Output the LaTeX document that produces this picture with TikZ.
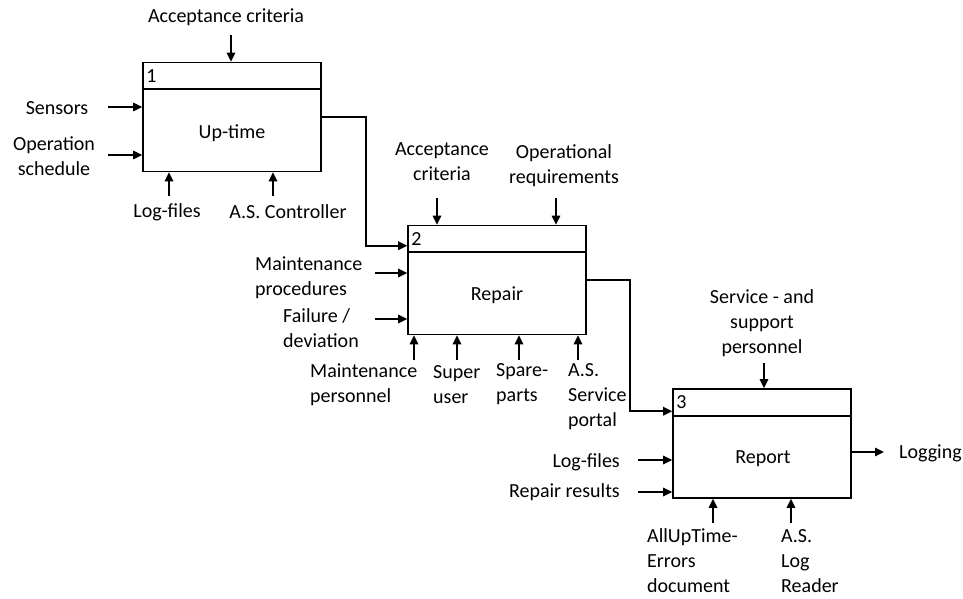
\documentclass[tikz,border=0pt]{standalone}
\usepackage{fontspec}
\setmainfont{Carlito}
\usetikzlibrary{arrows.meta,calc}
\begin{document}
\begin{tikzpicture}[x=1pt,y=-1pt,
  every node/.style={font=\fontsize{20}{25}\selectfont, inner sep=0pt},
  actbox/.style={draw, line width=1.6pt, rectangle, minimum width=178pt, minimum height=109pt},
  lbl/.style={align=center},
  lbll/.style={align=left, anchor=west},
  lblr/.style={align=right, anchor=east},
  arr/.style={line width=1.6pt, -{Triangle[length=9pt,width=8.5pt]}},
  flow/.style={line width=1.6pt, -{Triangle[length=9pt,width=8.5pt]}}]
\useasboundingbox (0,0) rectangle (963,598);

% activity boxes
\node[actbox] (b1) at (232,117) {};
\node[actbox] (b2) at (497,280) {};
\node[actbox] (b3) at (762,443.5) {};

% header strips with box numbers
\draw[line width=1.6pt] ($(b1.north west)+(0,27)$) -- ($(b1.north east)+(0,27)$);
\draw[line width=1.6pt] ($(b2.north west)+(0,27)$) -- ($(b2.north east)+(0,27)$);
\draw[line width=1.6pt] ($(b3.north west)+(0,28)$) -- ($(b3.north east)+(0,28)$);
\node[anchor=west] (n1) at ($(b1.north west)+(4,14)$) {1};
\node[anchor=west] (n2) at ($(b2.north west)+(4,14)$) {2};
\node[anchor=west] (n3) at ($(b3.north west)+(4,14)$) {3};

% activity names
\node (t1) at (232,133) {Up-time};
\node (t2) at (497,295) {Repair};
\node (t3) at (763,459) {Report};

% --- Up-time ---
\node[lbl] (ac1) at (226,17) {Acceptance criteria};
\node[lbl] (sens) at (57,108) {Sensors};
\node[lbl] (opsch) at (54,156) {Operation\\schedule};
\node[lbl] (lf1) at (167,212) {Log-files};
\node[lbl] (asc) at (288,212) {A.S. Controller};
\coordinate (ac1t) at (231,35);
\coordinate (senst) at (108,107);
\coordinate (opscht) at (108,155);
\coordinate (lf1t) at (169,196);
\coordinate (asct) at (273,196);
\draw[arr] (ac1t) -- (ac1t |- b1.north);
\draw[arr] (senst) -- (senst -| b1.west);
\draw[arr] (opscht) -- (opscht -| b1.west);
\draw[arr] (lf1t) -- (lf1t |- b1.south);
\draw[arr] (asct) -- (asct |- b1.south);

% --- Repair ---
\node[lbl] (ac2) at (442,161.5) {Acceptance\\criteria};
\node[lbl] (opreq) at (564,165.5) {Operational\\requirements};
\node[lbll] (mproc) at (255,278) {Maintenance\\procedures};
\node[lbll] (fail) at (283,328.5) {Failure /\\deviation};
\node[lbll] (mpers) at (310,384.5) {Maintenance\\personnel};
\node[lbll] (super) at (433,384.5) {Super\\user};
\node[lbll] (spare) at (496,384.5) {Spare-\\parts};
\node[lbll] (asport) at (568,397) {A.S.\\Service\\portal};
\coordinate (ac2t) at (437,198);
\coordinate (opreqt) at (556,198);
\coordinate (mproct) at (375,273);
\coordinate (failt) at (375,319);
\coordinate (mperst) at (414,360);
\coordinate (supert) at (457,360);
\coordinate (sparet) at (519,360);
\coordinate (asportt) at (578,360);
\draw[arr] (ac2t) -- (ac2t |- b2.north);
\draw[arr] (opreqt) -- (opreqt |- b2.north);
\draw[arr] (mproct) -- (mproct -| b2.west);
\draw[arr] (failt) -- (failt -| b2.west);
\draw[arr] (mperst) -- (mperst |- b2.south);
\draw[arr] (supert) -- (supert |- b2.south);
\draw[arr] (sparet) -- (sparet |- b2.south);
\draw[arr] (asportt) -- (asportt |- b2.south);

% --- Report ---
\node[lbl] (serv) at (762,323) {Service - and\\support\\personnel};
\node[lblr] (lf3) at (620,462) {Log-files};
\node[lblr] (rres) at (620,492) {Repair results};
\node[lbll] (logg) at (899,453) {Logging};
\node[lbll] (allup) at (647,561) {AllUpTime-\\Errors\\document};
\node[lbll] (aslog) at (781,561) {A.S.\\Log\\Reader};
\coordinate (servt) at (764,363);
\coordinate (lf3t) at (638,460);
\coordinate (rrest) at (638,492);
\coordinate (allupt) at (713,523);
\coordinate (aslogt) at (791,523);
\coordinate (loggt) at (884,452);
\draw[arr] (servt) -- (servt |- b3.north);
\draw[arr] (lf3t) -- (lf3t -| b3.west);
\draw[arr] (rrest) -- (rrest -| b3.west);
\draw[arr] (allupt) -- (allupt |- b3.south);
\draw[arr] (aslogt) -- (aslogt |- b3.south);
\draw[arr] (loggt -| b3.east) -- (loggt);

% flows between activities
\draw[flow] (b1.east) -- ++(44,0) |- ($(b2.north west)+(0,21)$);
\draw[flow] (b2.east) -- ++(43,0) |- ($(b3.north west)+(0,23)$);
\end{tikzpicture}
\end{document}
